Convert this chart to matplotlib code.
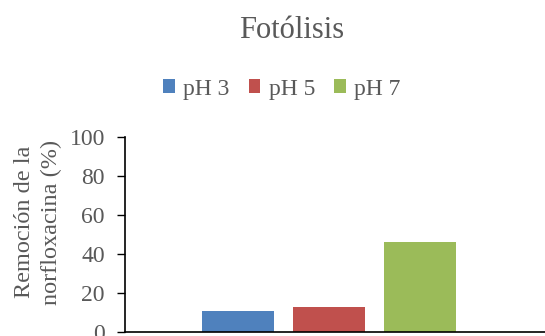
import matplotlib.pyplot as plt

labels = ["pH 3", "pH 5", "pH 7"]
removal = [10.6, 12.7, 46.1]
colors = ["#4F81BD", "#C0504D", "#9BBB59"]
y_ticks = [0, 20, 40, 60, 80, 100]

plt.rcParams["font.family"] = ["Liberation Serif", "DejaVu Serif"]
text_grey = "#595959"

fig = plt.figure(figsize=(5.45, 3.36), dpi=100)
# axes extend slightly beyond the image on the bottom and right, as in the reference crop
ax = fig.add_axes([125 / 545, 4.3 / 336, 1 - 125 / 545, (331.7 - 137) / 336])

x = list(range(len(labels)))
bars = ax.bar(x, removal, width=0.79, color=colors, label=labels)

ax.set_xlim(-1.24, 3.37)
ax.set_ylim(0, 100)
ax.set_yticks(y_ticks)
ax.set_xticks([])
ax.tick_params(axis="y", direction="out", length=6, width=1, colors="black", pad=8.5,
               labelcolor=text_grey, labelsize=17)
for side in ("top", "right"):
    ax.spines[side].set_visible(False)
for side in ("left", "bottom"):
    ax.spines[side].set_linewidth(1.2)

fig.text(38 / 545, 1 - 222 / 336, "Remoción de la\nnorfloxacina (%)", rotation=90,
         ha="center", va="center", fontsize=17.5, color=text_grey, linespacing=1.35)

fig.text(0.535, 0.91, "Fotólisis", ha="center", va="center", fontsize=22, color=text_grey)

leg = fig.legend(handles=bars, labels=labels, loc="center", bbox_to_anchor=(0.517, 0.735),
                 ncol=3, frameon=False, fontsize=17, handlelength=0.5, handleheight=0.5,
                 handletextpad=0.35, columnspacing=0.8, labelcolor=text_grey)

fig.savefig("out.png", dpi=100)
